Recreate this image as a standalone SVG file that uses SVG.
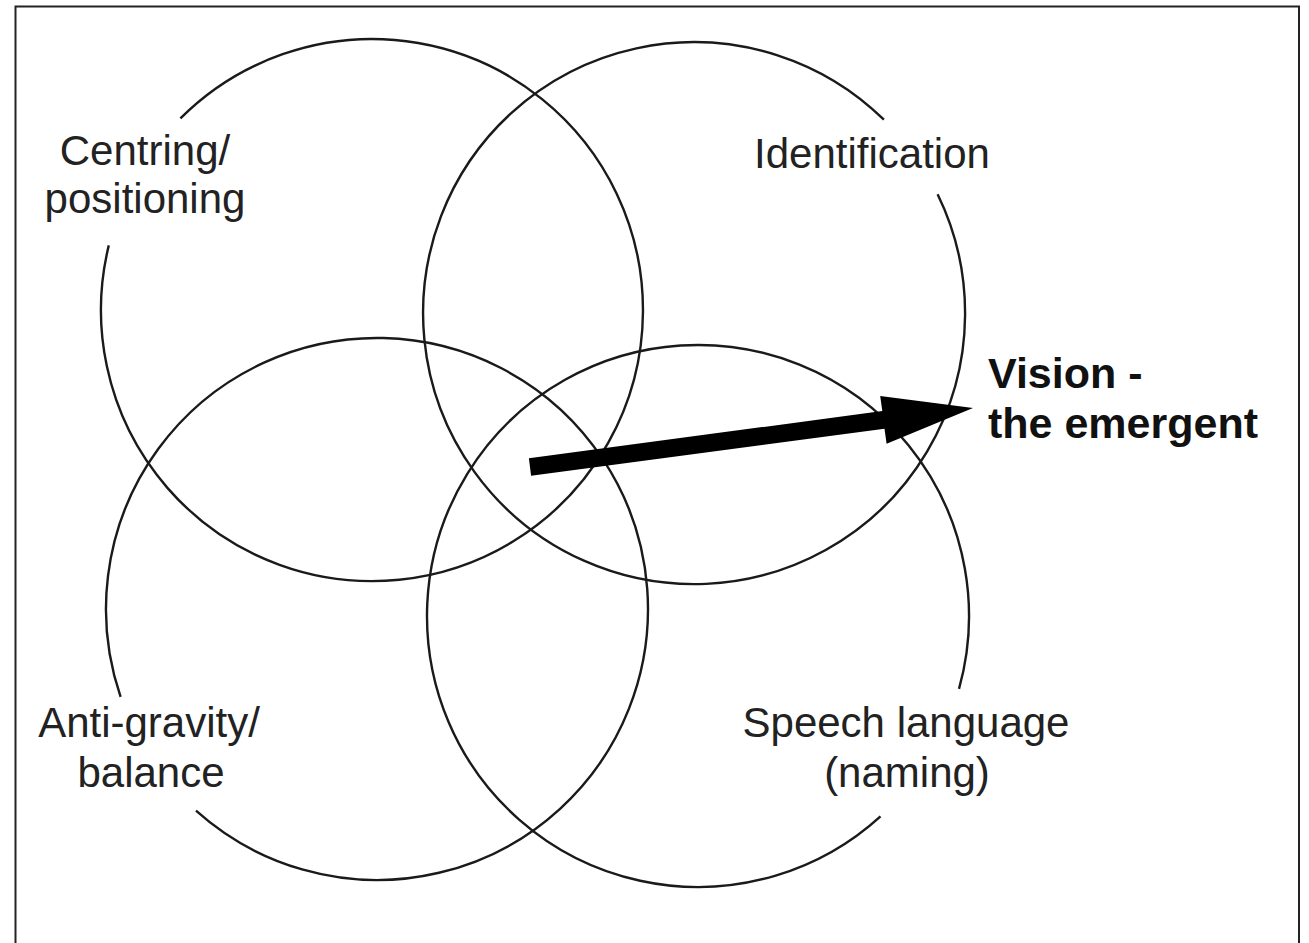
<svg xmlns="http://www.w3.org/2000/svg" width="1309" height="943" viewBox="0 0 1309 943">
<style>
.ring{fill:none;stroke:#1a1a1a;stroke-width:2.4}
.lbl{font-family:"Liberation Sans",Arial,sans-serif;font-size:42px;fill:#222;text-anchor:middle}
.bold{font-family:"Liberation Sans",Arial,sans-serif;font-size:43px;font-weight:bold;fill:#111}
</style>
<rect x="0" y="0" width="1309" height="943" fill="#fff"/>
<rect id="frame" x="15.5" y="6.5" width="1283.5" height="945" fill="none" stroke="#222" stroke-width="2"/>
<g id="centring">
<path class="ring" d="M180.4,118.4 A271,271 0 1 1 108.8,245.4"/>
<text class="lbl" x="145" y="165">Centring/</text>
<text class="lbl" x="145" y="213">positioning</text>
</g>
<g id="identification">
<path class="ring" d="M937.6,194.2 A271,271 0 1 1 883.9,119.7"/>
<text class="lbl" x="872" y="168">Identification</text>
</g>
<g id="antigravity">
<path class="ring" d="M120.6,696.8 A271,271 0 1 1 196.0,810.7"/>
<text class="lbl" x="149" y="737">Anti-gravity/</text>
<text class="lbl" x="151" y="787">balance</text>
</g>
<g id="speech">
<path class="ring" d="M880.5,816.3 A271,271 0 1 1 959.0,688.9"/>
<text class="lbl" x="906" y="737">Speech language</text>
<text class="lbl" x="907" y="787">(naming)</text>
</g>
<g id="vision">
<text class="bold" x="988" y="388">Vision -</text>
<text class="bold" x="988" y="438">the emergent</text>
</g>
<g id="connectors">
<polygon fill="#000" points="528.9,458.2 882.3,411.1 880.2,396.1 973,408 886.6,443.7 884.5,428.7 531.1,475.8"/>
</g>
</svg>
